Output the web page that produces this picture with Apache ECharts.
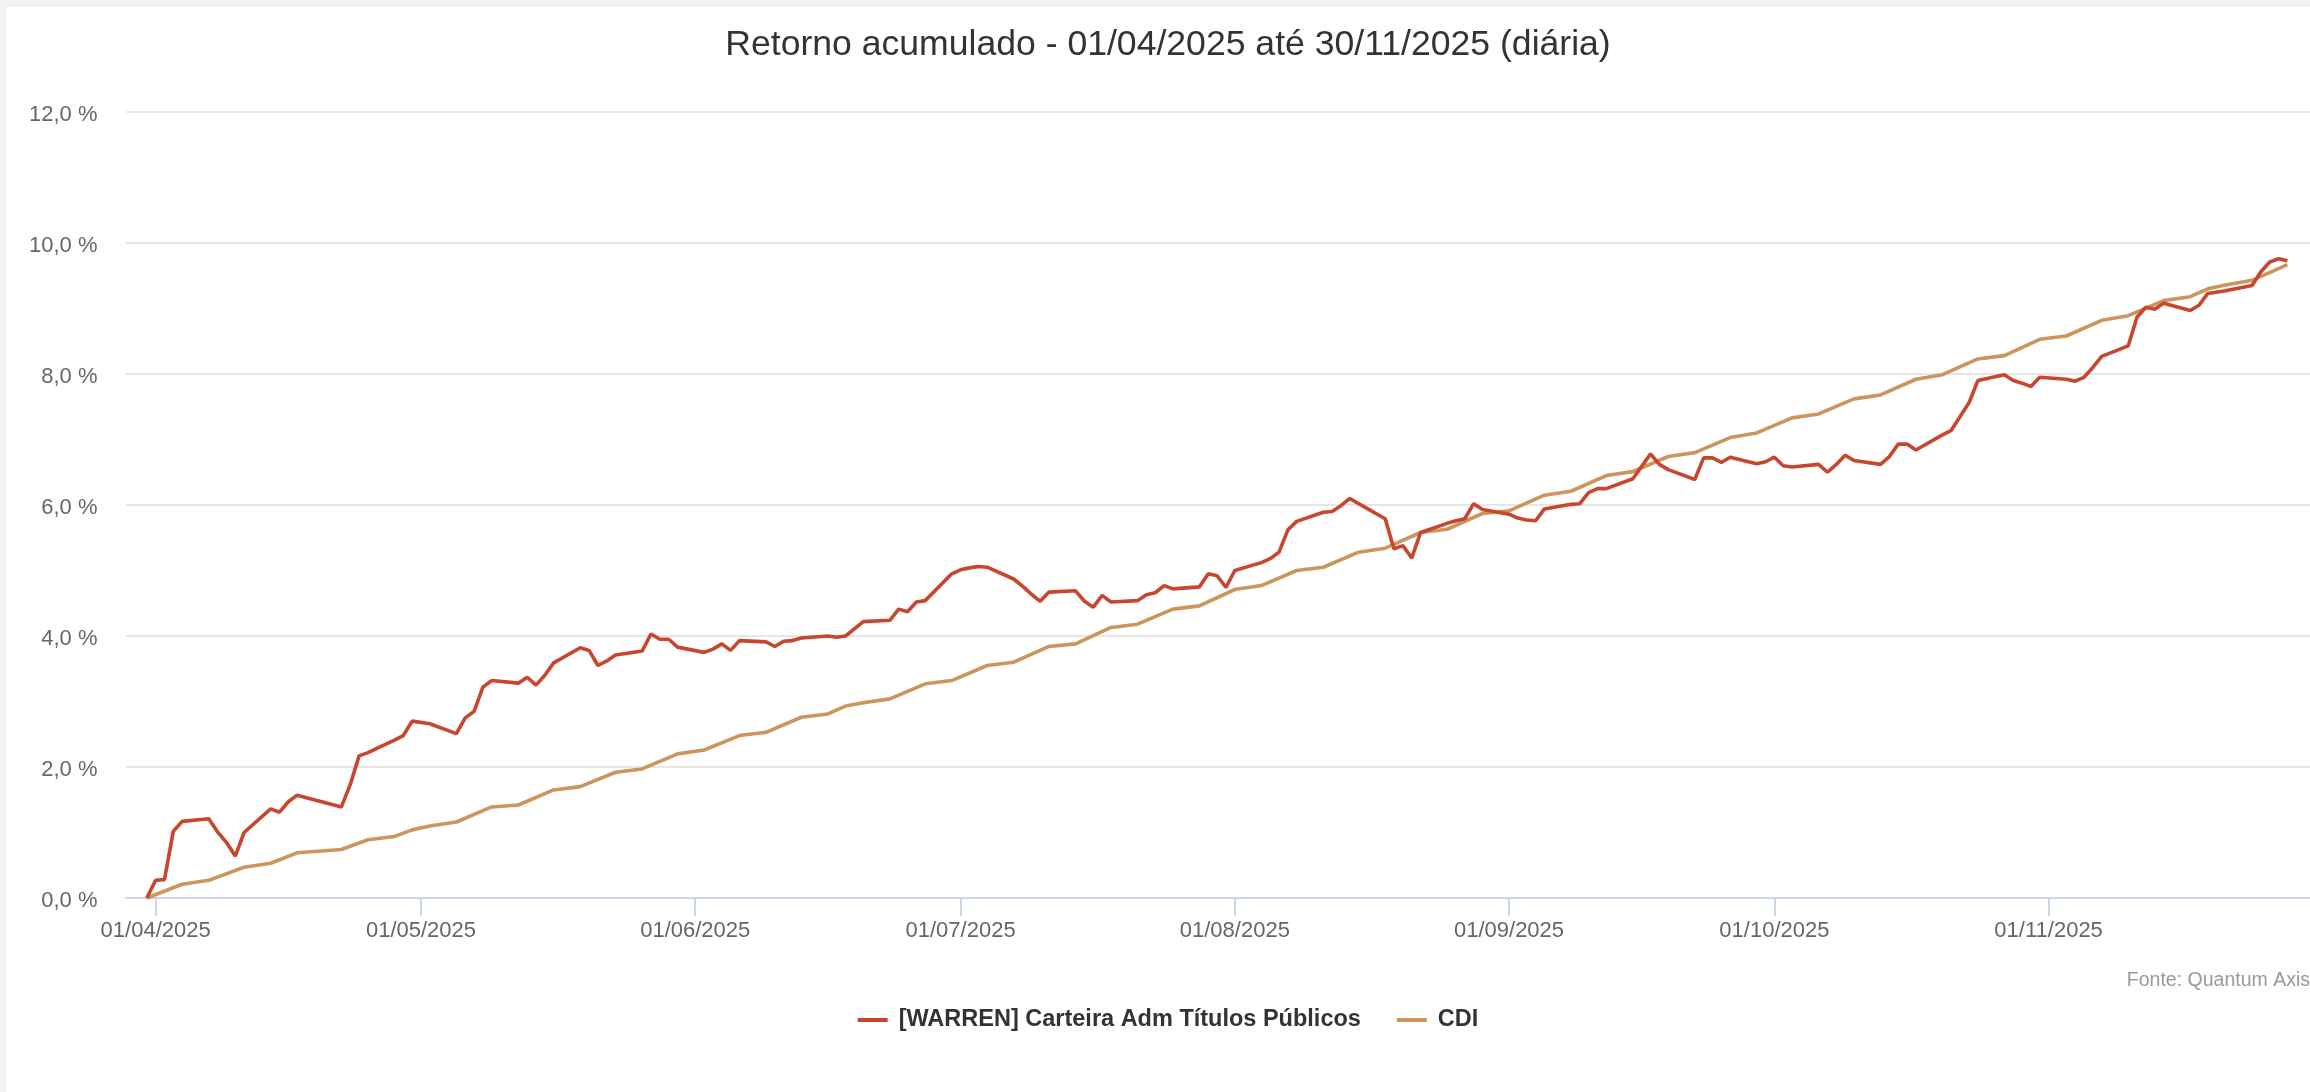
<!DOCTYPE html>
<html>
<head>
<meta charset="utf-8">
<title>Retorno acumulado</title>
<script src="https://cdn.jsdelivr.net/npm/echarts@6/dist/echarts.min.js"></script>
<style>
  html, body { margin: 0; padding: 0; width: 2310px; height: 1092px; overflow: hidden; background: #f5f1f0; }
  #chart { position: absolute; left: 6px; top: 7px; width: 2324px; height: 1085px; background: #fff; }
</style>
</head>
<body>
<div id="chart"></div>
<script>
// valores (% acumulado)
var warrenDates = [
  '2025-03-31', '2025-04-01', '2025-04-02', '2025-04-03', '2025-04-04', '2025-04-07', '2025-04-08', '2025-04-09', '2025-04-10', '2025-04-11',
  '2025-04-14', '2025-04-15', '2025-04-16', '2025-04-17', '2025-04-22', '2025-04-23', '2025-04-24', '2025-04-25', '2025-04-28', '2025-04-29',
  '2025-04-30', '2025-05-02', '2025-05-05', '2025-05-06', '2025-05-07', '2025-05-08', '2025-05-09', '2025-05-12', '2025-05-13', '2025-05-14',
  '2025-05-15', '2025-05-16', '2025-05-19', '2025-05-20', '2025-05-21', '2025-05-22', '2025-05-23', '2025-05-26', '2025-05-27', '2025-05-28',
  '2025-05-29', '2025-05-30', '2025-06-02', '2025-06-03', '2025-06-04', '2025-06-05', '2025-06-06', '2025-06-09', '2025-06-10', '2025-06-11',
  '2025-06-12', '2025-06-13', '2025-06-16', '2025-06-17', '2025-06-18', '2025-06-20', '2025-06-23', '2025-06-24', '2025-06-25', '2025-06-26',
  '2025-06-27', '2025-06-30', '2025-07-01', '2025-07-02', '2025-07-03', '2025-07-04', '2025-07-07', '2025-07-08', '2025-07-09', '2025-07-10',
  '2025-07-11', '2025-07-14', '2025-07-15', '2025-07-16', '2025-07-17', '2025-07-18', '2025-07-21', '2025-07-22', '2025-07-23', '2025-07-24',
  '2025-07-25', '2025-07-28', '2025-07-29', '2025-07-30', '2025-07-31', '2025-08-01', '2025-08-04', '2025-08-05', '2025-08-06', '2025-08-07',
  '2025-08-08', '2025-08-11', '2025-08-12', '2025-08-13', '2025-08-14', '2025-08-15', '2025-08-18', '2025-08-19', '2025-08-20', '2025-08-21',
  '2025-08-22', '2025-08-25', '2025-08-26', '2025-08-27', '2025-08-28', '2025-08-29', '2025-09-01', '2025-09-02', '2025-09-03', '2025-09-04',
  '2025-09-05', '2025-09-08', '2025-09-09', '2025-09-10', '2025-09-11', '2025-09-12', '2025-09-15', '2025-09-16', '2025-09-17', '2025-09-18',
  '2025-09-19', '2025-09-22', '2025-09-23', '2025-09-24', '2025-09-25', '2025-09-26', '2025-09-29', '2025-09-30', '2025-10-01', '2025-10-02',
  '2025-10-03', '2025-10-06', '2025-10-07', '2025-10-08', '2025-10-09', '2025-10-10', '2025-10-13', '2025-10-14', '2025-10-15', '2025-10-16',
  '2025-10-17', '2025-10-20', '2025-10-21', '2025-10-22', '2025-10-23', '2025-10-24', '2025-10-27', '2025-10-28', '2025-10-29', '2025-10-30',
  '2025-10-31', '2025-11-03', '2025-11-04', '2025-11-05', '2025-11-06', '2025-11-07', '2025-11-10', '2025-11-11', '2025-11-12', '2025-11-13',
  '2025-11-14', '2025-11-17', '2025-11-18', '2025-11-19', '2025-11-21', '2025-11-24', '2025-11-25', '2025-11-26', '2025-11-27', '2025-11-28'
];
var warrenValues = [
  0.00, 0.27, 0.28, 1.02, 1.17, 1.21, 1.01, 0.85, 0.64, 1.00,
  1.36, 1.31, 1.47, 1.57, 1.39, 1.73, 2.17, 2.22, 2.41, 2.48,
  2.70, 2.66, 2.51, 2.75, 2.85, 3.22, 3.32, 3.28, 3.37, 3.25,
  3.40, 3.59, 3.82, 3.78, 3.55, 3.62, 3.71, 3.77, 4.03, 3.95,
  3.95, 3.83, 3.75, 3.80, 3.88, 3.78, 3.93, 3.91, 3.84, 3.92,
  3.93, 3.97, 4.00, 3.98, 4.00, 4.22, 4.24, 4.41, 4.37, 4.52,
  4.54, 4.95, 5.01, 5.04, 5.06, 5.05, 4.87, 4.76, 4.64, 4.53,
  4.67, 4.69, 4.53, 4.44, 4.62, 4.52, 4.54, 4.63, 4.66, 4.77,
  4.72, 4.75, 4.95, 4.92, 4.74, 5.00, 5.12, 5.18, 5.28, 5.62,
  5.75, 5.89, 5.90, 5.99, 6.10, 6.02, 5.79, 5.33, 5.38, 5.19,
  5.58, 5.72, 5.76, 5.79, 6.02, 5.93, 5.86, 5.80, 5.77, 5.76,
  5.94, 6.01, 6.02, 6.19, 6.25, 6.25, 6.40, 6.59, 6.78, 6.62,
  6.54, 6.39, 6.72, 6.72, 6.65, 6.73, 6.63, 6.66, 6.73, 6.60,
  6.58, 6.62, 6.50, 6.62, 6.76, 6.68, 6.62, 6.74, 6.93, 6.93,
  6.84, 7.07, 7.14, 7.35, 7.56, 7.90, 7.99, 7.90, 7.86, 7.81,
  7.95, 7.92, 7.89, 7.95, 8.10, 8.27, 8.43, 8.87, 9.02, 8.99,
  9.08, 8.97, 9.05, 9.23, 9.27, 9.35, 9.56, 9.71, 9.76, 9.73
];

var cdiDates = [
  '2025-03-31', '2025-04-04', '2025-04-07', '2025-04-11', '2025-04-14', '2025-04-17', '2025-04-22', '2025-04-25', '2025-04-28', '2025-04-30',
  '2025-05-02', '2025-05-05', '2025-05-09', '2025-05-12', '2025-05-16', '2025-05-19', '2025-05-23', '2025-05-26', '2025-05-30', '2025-06-02',
  '2025-06-06', '2025-06-09', '2025-06-13', '2025-06-16', '2025-06-18', '2025-06-20', '2025-06-23', '2025-06-27', '2025-06-30', '2025-07-04',
  '2025-07-07', '2025-07-11', '2025-07-14', '2025-07-18', '2025-07-21', '2025-07-25', '2025-07-28', '2025-08-01', '2025-08-04', '2025-08-08',
  '2025-08-11', '2025-08-15', '2025-08-18', '2025-08-22', '2025-08-25', '2025-08-29', '2025-09-01', '2025-09-05', '2025-09-08', '2025-09-12',
  '2025-09-15', '2025-09-19', '2025-09-22', '2025-09-26', '2025-09-29', '2025-10-03', '2025-10-06', '2025-10-10', '2025-10-13', '2025-10-17',
  '2025-10-20', '2025-10-24', '2025-10-27', '2025-10-31', '2025-11-03', '2025-11-07', '2025-11-10', '2025-11-14', '2025-11-17', '2025-11-19',
  '2025-11-21', '2025-11-24', '2025-11-28'
];
var cdiValues = [
  0.00, 0.21, 0.27, 0.47, 0.53, 0.69, 0.74, 0.89, 0.94, 1.04,
  1.10, 1.16, 1.39, 1.42, 1.65, 1.70, 1.92, 1.97, 2.20, 2.26,
  2.48, 2.53, 2.76, 2.81, 2.93, 2.98, 3.04, 3.27, 3.32, 3.55,
  3.60, 3.84, 3.88, 4.13, 4.18, 4.41, 4.46, 4.71, 4.77, 5.00,
  5.05, 5.28, 5.34, 5.58, 5.63, 5.87, 5.91, 6.15, 6.21, 6.45,
  6.51, 6.74, 6.80, 7.03, 7.10, 7.33, 7.39, 7.62, 7.68, 7.92,
  7.99, 8.23, 8.28, 8.53, 8.58, 8.82, 8.89, 9.12, 9.18, 9.30,
  9.36, 9.43, 9.67
];

var tickDates = ['2025-04-01', '2025-05-01', '2025-06-01', '2025-07-01', '2025-08-01', '2025-09-01', '2025-10-01', '2025-11-01'];

var DAY = 86400000;
function toTs (s) {
  var p = s.split('-')
  return Date.UTC(+p[0], +p[1] - 1, +p[2])
}
function pad2 (n) { return n < 10 ? '0' + n : '' + n }
function pairs (dates, values) {
  return dates.map(function (d, i) { return [toTs(d), values[i]] })
}

var font = 'Liberation Sans, Arial, Helvetica, sans-serif'
var chart = echarts.init(document.getElementById('chart'))
chart.setOption({
  animation: false,
  backgroundColor: '#ffffff',
  textStyle: { fontFamily: font },
  title: [
    {
      text: 'Retorno acumulado - 01/04/2025 até 30/11/2025 (diária)',
      left: 'center',
      top: 15,
      textStyle: { fontSize: 35.6, fontWeight: 'normal', color: '#333333', fontFamily: font }
    },
    {
      text: 'Fonte: Quantum Axis',
      right: 15,
      top: 959,
      textStyle: { fontSize: 19.5, fontWeight: 'normal', color: '#999999', fontFamily: font }
    }
  ],
  legend: {
    top: 996,
    left: 'center',
    icon: 'rect',
    itemWidth: 30,
    itemHeight: 4,
    itemGap: 36,
    textStyle: { fontSize: 23.5, fontWeight: 'bold', color: '#333333', fontFamily: font, padding: [0, 0, 0, 6] },
    data: ['[WARREN] Carteira Adm Títulos Públicos', 'CDI']
  },
  grid: { left: 120, right: 20, top: 105, bottom: 194, containLabel: false },
  xAxis: {
    // datas em ms (UTC); ticks no primeiro dia de cada mês
    type: 'value',
    min: toTs(warrenDates[0]) - 2.35 * DAY,
    max: toTs(warrenDates[warrenDates.length - 1]) + 2.55 * DAY,
    axisLine: { show: true, onZero: false, lineStyle: { color: '#ccd6eb', width: 2 } },
    axisTick: {
      show: true,
      length: 18,
      lineStyle: { color: '#ccd6eb', width: 2 },
      customValues: tickDates.map(toTs)
    },
    axisLabel: {
      color: '#666666',
      fontSize: 22,
      margin: 22,
      fontFamily: font,
      customValues: tickDates.map(toTs),
      formatter: function (v) {
        var d = new Date(v)
        return pad2(d.getUTCDate()) + '/' + pad2(d.getUTCMonth() + 1) + '/' + d.getUTCFullYear()
      }
    },
    splitLine: { show: false }
  },
  yAxis: {
    type: 'value',
    min: 0,
    max: 12,
    interval: 2,
    axisLine: { show: false },
    axisTick: { show: false },
    axisLabel: {
      color: '#666666',
      fontSize: 22,
      margin: 28.5,
      fontFamily: font,
      formatter: function (v) { return '{p|' + v.toFixed(1).replace('.', ',') + ' %}' },
      rich: {
        p: { color: '#666666', fontSize: 22, fontFamily: font, padding: [6, 0, 0, 0] }
      }
    },
    splitLine: { lineStyle: { color: '#e6e6e6', width: 2 } }
  },
  series: [
    {
      name: '[WARREN] Carteira Adm Títulos Públicos',
      type: 'line',
      symbol: 'none',
      color: '#c8462d',
      lineStyle: { width: 3.6, color: '#c8462d' },
      data: pairs(warrenDates, warrenValues),
      z: 3
    },
    {
      name: 'CDI',
      type: 'line',
      symbol: 'none',
      color: '#cc955b',
      lineStyle: { width: 3.6, color: '#cc955b' },
      data: pairs(cdiDates, cdiValues),
      z: 2
    }
  ]
})
</script>
</body>
</html>
